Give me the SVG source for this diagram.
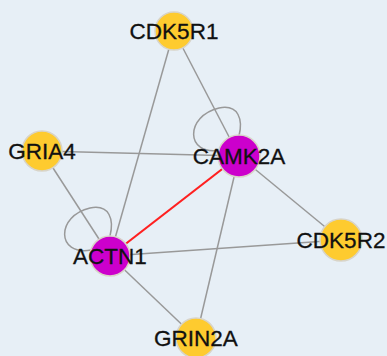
<svg xmlns="http://www.w3.org/2000/svg" width="387" height="356" viewBox="0 0 387 356">
<style>
.e{stroke:#999;stroke-width:1.5;fill:none}
.r{stroke:#ff2020;stroke-width:2.2;fill:none}
.y{fill:#fecb2f;stroke:#d8d4c8;stroke-width:1.5}
.p{fill:#cc00cc;stroke:#d8d4c8;stroke-width:1.5}
text{font-family:"Liberation Sans",Arial,sans-serif;font-size:22.5px;fill:#111;stroke:#111;stroke-width:0.3;text-anchor:middle}
</style>
<defs>
<path id="loop" d="M -19 -6 C -54 0, -54 -40, -20 -48 C 0 -52, 4 -36, 0 -20"/>
</defs>
<rect width="387" height="356" fill="#e7eff6"/>
<g id="edges">
<line class="e" x1="174" y1="31" x2="239" y2="156"/>
<line class="e" x1="174" y1="31" x2="110" y2="256"/>
<line class="e" x1="42" y1="151" x2="239" y2="156"/>
<line class="e" x1="42" y1="151" x2="110" y2="256"/>
<line class="e" x1="239" y1="156" x2="341" y2="240"/>
<line class="e" x1="239" y1="156" x2="196" y2="338"/>
<line class="e" x1="110" y1="256" x2="341" y2="240"/>
<line class="e" x1="110" y1="256" x2="196" y2="338"/>
<line class="r" x1="110" y1="256" x2="239" y2="156"/>
<use href="#loop" class="e" transform="translate(239 156)"/>
<use href="#loop" class="e" transform="translate(110 256)"/>
</g>
<g id="CDK5R1"><circle class="y" cx="174" cy="31" r="19"/><text x="174" y="39">CDK5R1</text></g>
<g id="GRIA4"><circle class="y" cx="42" cy="151" r="20"/><text x="42" y="159">GRIA4</text></g>
<g id="CAMK2A"><circle class="p" cx="239" cy="156" r="21"/><text x="239" y="164">CAMK2A</text></g>
<g id="ACTN1"><circle class="p" cx="110" cy="256" r="20"/><text x="110" y="264">ACTN1</text></g>
<g id="CDK5R2"><circle class="y" cx="341" cy="240" r="21"/><text x="341" y="248">CDK5R2</text></g>
<g id="GRIN2A"><circle class="y" cx="196" cy="338" r="20"/><text x="196" y="346">GRIN2A</text></g>
</svg>
